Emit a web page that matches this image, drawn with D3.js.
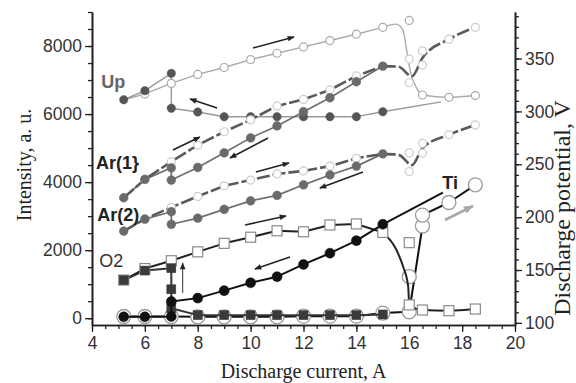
<!DOCTYPE html>
<html>
<head>
<meta charset="utf-8">
<script src="https://cdn.jsdelivr.net/npm/d3@7"></script>
<style>
  html, body { margin: 0; padding: 0; background: #fff; }
  svg { display: block; }
</style>
</head>
<body>
<svg id="chart" width="576" height="383"></svg>
<script>
// ---- data: discharge current (A) vs. line intensity (a.u.) and discharge potential (V)
// Discharge potential Up (V), current increasing / decreasing
const upRise = [[5.2,311],[6,316.5],[7,326.5],[8,335],[9,341.5],[10,349],[11,355],[12,361],[13,367],[14,373],[15,379.5]];
const upRiseTailLine = [[15,379.5],[15.5,382.5],[15.76,377],[15.9,358],[16.03,339],[16.28,322],[16.5,315.5],[17.5,313.3],[18.5,315]];
const upRiseTailPts = [[16,386],[16.5,315.5],[17.5,313.3],[18.5,315]];
const upFallLine = [[17.2,309],[15,299.7],[14,295],[13,295],[12,295],[11,295],[10,295],[9,295],[8,299.4],[7,303],[7,336],[6,319.6],[5.2,311]];
const upFallPts = upFallLine.slice(1);

// Ar(1) intensity
const ar1Rise = [[5.2,3540],[6,4080],[7,4600],[8,5090],[9,5480],[10,5830],[11,6240],[12,6430],[13,6710],[14,7120],[15,7410]];
const ar1TailLine = [[15,7410],[15.6,7390],[16.1,7110],[16.5,7650],[17.5,8200],[18.5,8550]];
const ar1TailPts = [[16,7615],[16,6920],[16.5,7860],[16.5,7440],[17.5,8200],[18.5,8550]];
const ar1Fall = [[15,7410],[14,6950],[13,6480],[12,6070],[11,5650],[10,5300],[9,4860],[8,4430],[7,4060],[7,4420],[6,4080],[5.2,3540]];

// Ar(2) intensity
const ar2Rise = [[5.2,2560],[6,2920],[7,3260],[8,3580],[9,3890],[10,4060],[11,4240],[12,4330],[13,4470],[14,4700],[15,4830]];
const ar2TailLine = [[15,4830],[15.6,4800],[16.1,4500],[16.5,5000],[17.5,5390],[18.5,5680]];
const ar2TailPts = [[16,4860],[16,4310],[16.5,5140],[16.5,4850],[17.5,5390],[18.5,5680]];
const ar2Fall = [[15,4830],[14,4470],[13,4210],[12,3920],[11,3610],[10,3450],[9,3200],[8,2940],[7,2760],[7,3130],[6,2910],[5.2,2560]];

// O2 intensity
const o2Rise = [[5.2,1120],[6,1460],[7,1690],[8,1950],[9,2200],[10,2380],[11,2570],[12,2540],[13,2740],[14,2770],[15,2520]];
const o2TailLine = [[15,2520],[15.52,2000],[15.77,1510],[15.96,930],[16,390],[16.5,240],[17.5,220],[18.5,270]];
const o2TailPts = [[16,2220],[16,390],[16.5,240],[17.5,220],[18.5,270]];
const o2Fall = [[15,110],[14,90],[13,90],[12,90],[11,90],[10,90],[9,90],[8,90],[7,290],[7,850],[7,1470],[6,1400],[5.2,1120]];

// Ti intensity
const tiRise = [[5.2,50],[6,50],[7,50],[8,40],[9,40],[10,40],[11,40],[12,60],[13,60],[14,60],[15,150],[16,190],[16.5,2710],[16.5,3030],[17.5,3400],[18.5,3920]];
const tiRiseExtra = [[16,1220]];
const tiFallLine = [[17.27,3690],[15,2760],[14,2280],[13,1910],[12,1580],[11,1220],[10,1040],[9,810],[8,590],[7,490],[7,50],[6,40],[5.2,40]];
const tiFallPts = tiFallLine.slice(1);

// direction arrows [x0, I0, x1, I1] in current / intensity units
const darkArrows = [
  [10.09,7942,11.64,8265],
  [8.73,6178,7.71,6443],
  [7.06,4944,8.08,5326],
  [10.66,5297,9.22,4709],
  [10.2,4297,11.45,4562],
  [14.25,4297,12.62,3827],
  [9.79,2739,11.34,3004],
  [11.49,1799,10.16,1446]
];
const thinArrows = [[7.43,741,7.43,1622]];
const greyArrows = [[17.35,2886,18.41,3298]];

// axis ticks
const xMajor = [4,6,8,10,12,14,16,18,20];
const xMinor = d3.range(4,20.01,0.5);
const yLeftMajor = [0,2000,4000,6000,8000];
const yLeftMinor = d3.range(0,9001,500);
const yRightMajor = [100,150,200,250,300,350];
const yRightMinor = d3.range(100,391,10);

// series labels [text, x, I]
const seriesLabels = [
  {t:"Up", x:4.35, v:6760, bold:true, fill:"#666"},
  {t:"Ar(1}", x:4.15, v:4390, bold:true, fill:"#222"},
  {t:"Ar(2)", x:4.2, v:2860, bold:true, fill:"#222"},
  {t:"O2", x:4.27, v:1500, bold:false, fill:"#333"},
  {t:"Ti", x:17.25, v:3810, bold:true, fill:"#222"}
];

// ---- layout
const W = 576, H = 383;
const L = 92, R = 515, T = 12, B = 325;
const svg = d3.select("#chart");

const x = d3.scaleLinear().domain([4,20]).range([L,R]);
const yL = d3.scaleLinear().domain([-200,9000]).range([B,T]);
const yR = d3.scaleLinear().domain([98,394]).range([B,T]);

const defs = svg.append("defs");
function arrowMarker(id, color, w, h) {
  defs.append("marker").attr("id", id)
    .attr("viewBox","0 0 10 10").attr("refX",9).attr("refY",5)
    .attr("markerWidth",w).attr("markerHeight",h).attr("orient","auto")
    .attr("markerUnits","userSpaceOnUse")
    .append("path").attr("d","M0,1 L10,5 L0,9 Z").attr("fill",color);
}
arrowMarker("ah-dark","#222",9,7);
arrowMarker("ah-grey","#aaa",11,10);

// ---- axes
const tickFont = "Liberation Sans, Arial, sans-serif";
function styleAxis(g) {
  g.selectAll("path.domain").attr("stroke","#222").attr("stroke-width",1.6);
  g.selectAll(".tick line").attr("stroke","#222").attr("stroke-width",1.3);
  g.selectAll(".tick text").attr("font-family",tickFont).attr("font-size",17.5).attr("fill","#333");
}
svg.append("g").attr("transform",`translate(0,${B})`)
  .call(d3.axisBottom(x).tickValues(xMinor).tickSize(4).tickFormat("").tickSizeOuter(0)).call(styleAxis);
svg.append("g").attr("transform",`translate(0,${B})`)
  .call(d3.axisBottom(x).tickValues(xMajor).tickSize(7).tickPadding(5).tickFormat(d3.format("d")).tickSizeOuter(0)).call(styleAxis);

svg.append("g").attr("transform",`translate(${L},0)`)
  .call(d3.axisLeft(yL).tickValues(yLeftMinor).tickSize(4).tickFormat("").tickSizeOuter(0)).call(styleAxis);
svg.append("g").attr("transform",`translate(${L},0)`)
  .call(d3.axisLeft(yL).tickValues(yLeftMajor).tickSize(7).tickPadding(3).tickFormat(d3.format("d")).tickSizeOuter(0)).call(styleAxis);

svg.append("g").attr("transform",`translate(${R},0)`)
  .call(d3.axisRight(yR).tickValues(yRightMinor).tickSize(4).tickFormat("").tickSizeOuter(0)).call(styleAxis);
svg.append("g").attr("transform",`translate(${R},0)`)
  .call(d3.axisRight(yR).tickValues(yRightMajor).tickSize(7).tickPadding(3).tickFormat(d3.format("d")).tickSizeOuter(0)).call(styleAxis);

// axis titles
const titleFont = "Liberation Serif, Times New Roman, serif";
svg.append("text").attr("x",(L+R)/2).attr("y",378).attr("text-anchor","middle")
  .attr("font-family",titleFont).attr("font-size",20).attr("fill","#222").text("Discharge current, A");
svg.append("text").attr("transform","translate(31,165) rotate(-90)").attr("text-anchor","middle")
  .attr("font-family",titleFont).attr("font-size",20).attr("fill","#222").text("Intensity, a. u.");
svg.append("text").attr("transform","translate(570,208) rotate(-90)").attr("text-anchor","middle")
  .attr("font-family",titleFont).attr("font-size",24).attr("fill","#222").text("Discharge potential, V");

// ---- helpers
const lineL = d3.line().x(d => x(d[0])).y(d => yL(d[1]));
const lineR = d3.line().x(d => x(d[0])).y(d => yR(d[1]));
const curveL = d3.line().x(d => x(d[0])).y(d => yL(d[1])).curve(d3.curveMonotoneX);
const curveR = d3.line().x(d => x(d[0])).y(d => yR(d[1])).curve(d3.curveMonotoneX);
const plot = svg.append("g");

function path(gen, data, stroke, width, dash) {
  const p = plot.append("path").attr("d", gen(data)).attr("fill","none")
    .attr("stroke", stroke).attr("stroke-width", width).attr("stroke-linejoin","round");
  if (dash) p.attr("stroke-dasharray", dash);
  return p;
}
function circles(data, ys, r, fill, stroke, sw) {
  plot.append("g").selectAll("circle").data(data).join("circle")
    .attr("cx", d => x(d[0])).attr("cy", d => ys(d[1])).attr("r", r)
    .attr("fill", fill).attr("stroke", stroke).attr("stroke-width", sw);
}
function squares(data, ys, s, fill, stroke, sw) {
  plot.append("g").selectAll("rect").data(data).join("rect")
    .attr("x", d => x(d[0]) - s/2).attr("y", d => ys(d[1]) - s/2)
    .attr("width", s).attr("height", s)
    .attr("fill", fill).attr("stroke", stroke).attr("stroke-width", sw);
}

// ---- Up (right axis)
path(lineR, upRise, "#aaa", 1.4);
path(curveR, upRiseTailLine, "#aaa", 1.4);
path(lineR, upFallLine, "#999", 1.4);
circles(upRise.slice(1), yR, 4, "#fff", "#aaa", 1.2);
circles(upRiseTailPts, yR, 4, "#fff", "#aaa", 1.2);
circles(upFallPts, yR, 4.2, "#555", "#555", 0.5);

// ---- Ar(1), Ar(2)
function arSeries(rise, tailLine, tailPts, fall) {
  path(lineL, fall, "#707070", 1.7);
  path(lineL, rise, "#5a5a5a", 2.6, "13,3");
  path(curveL, tailLine, "#5a5a5a", 2.6, "13,3");
  circles(rise.slice(1, -1), yL, 4, "#fff", "#ccc", 1.2);
  circles(tailPts, yL, 4, "#fff", "#ccc", 1.2);
  circles(fall, yL, 4.4, "#6a6a6a", "#6a6a6a", 0.5);
}
arSeries(ar1Rise, ar1TailLine, ar1TailPts, ar1Fall);
arSeries(ar2Rise, ar2TailLine, ar2TailPts, ar2Fall);

// ---- Ti increasing (open circles)
path(lineL, tiRise, "#111", 2);
circles(tiRise, yL, 7, "#fff", "#9a9a9a", 1.3);
circles(tiRiseExtra, yL, 7, "#fff", "#9a9a9a", 1.3);

// ---- O2
path(lineL, o2Rise, "#222", 2);
path(curveL, o2TailLine, "#222", 2);
path(lineL, o2Fall, "#333", 2);
squares(o2Rise, yL, 10, "#fff", "#8a8a8a", 1.2);
squares(o2TailPts, yL, 10, "#fff", "#8a8a8a", 1.2);
squares(o2Fall, yL, 9, "#3a3a3a", "#3a3a3a", 0.5);

// ---- Ti decreasing (filled)
path(lineL, tiFallLine, "#111", 2);
circles(tiFallPts, yL, 5, "#111", "#111", 0.5);

// ---- arrows
function arrows(list, color, width, marker) {
  plot.append("g").selectAll("line").data(list).join("line")
    .attr("x1", d => x(d[0])).attr("y1", d => yL(d[1]))
    .attr("x2", d => x(d[2])).attr("y2", d => yL(d[3]))
    .attr("stroke", color).attr("stroke-width", width)
    .attr("marker-end", `url(#${marker})`);
}
arrows(darkArrows, "#222", 1.6, "ah-dark");
arrows(thinArrows, "#333", 1, "ah-dark");
arrows(greyArrows, "#aaa", 2.6, "ah-grey");

// ---- series labels
svg.append("g").selectAll("text").data(seriesLabels).join("text")
  .attr("x", d => x(d.x)).attr("y", d => yL(d.v))
  .attr("font-family", tickFont).attr("font-size", 18)
  .attr("font-weight", d => d.bold ? "bold" : "normal")
  .attr("fill", d => d.fill).text(d => d.t);
</script>
</body>
</html>
